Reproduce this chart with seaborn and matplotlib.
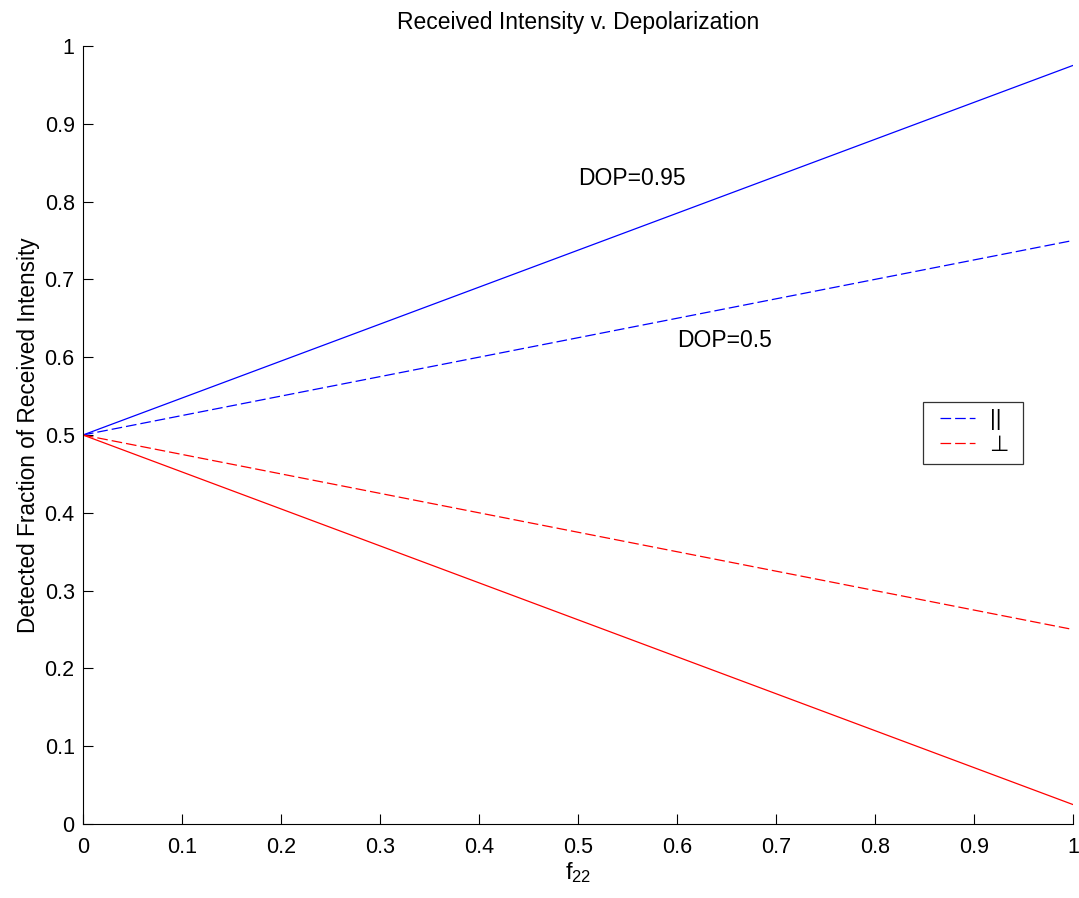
import numpy as np
import pandas as pd
import matplotlib
matplotlib.use("Agg")
import matplotlib.pyplot as plt
from matplotlib.legend_handler import HandlerLine2D
import seaborn as sns

# Received intensity fraction versus depolarization f22
f22 = [0.0, 1.0]
par_dop095 = [0.5, 0.975]
par_dop050 = [0.5, 0.75]
perp_dop050 = [0.5, 0.25]
perp_dop095 = [0.5, 0.025]

x_ticks = [0, 0.1, 0.2, 0.3, 0.4, 0.5, 0.6, 0.7, 0.8, 0.9, 1]
y_ticks = [0, 0.1, 0.2, 0.3, 0.4, 0.5, 0.6, 0.7, 0.8, 0.9, 1]
tick_labels = ["0", "0.1", "0.2", "0.3", "0.4", "0.5", "0.6", "0.7", "0.8", "0.9", "1"]

sns.set_theme(style="white")
plt.rcParams["font.family"] = ["Liberation Sans", "DejaVu Sans"]
plt.rcParams["text.color"] = "black"
plt.rcParams["axes.labelcolor"] = "black"
plt.rcParams["mathtext.fontset"] = "custom"
plt.rcParams["mathtext.rm"] = "Liberation Sans"
plt.rcParams["mathtext.it"] = "Liberation Sans"
plt.rcParams["mathtext.bf"] = "Liberation Sans:bold"


class InsetLineHandler(HandlerLine2D):
    """Legend line sample drawn in the right part of its handle box."""

    def __init__(self, inset_pt, **kw):
        super().__init__(**kw)
        self.inset_pt = inset_pt

    def create_artists(self, legend, orig_handle, xdescent, ydescent,
                       width, height, fontsize, trans):
        return super().create_artists(legend, orig_handle,
                                      xdescent - self.inset_pt, ydescent,
                                      width - self.inset_pt, height,
                                      fontsize, trans)


fig = plt.figure(figsize=(10.79, 8.98), dpi=100)
ax = fig.add_axes([0.0769, 0.0824, 0.9175, 0.8664])

lw = 0.9
dash = (0, (8.5, 3.2))
sns.lineplot(x=f22, y=par_dop095, ax=ax, color="#0000ff", linewidth=lw)
sns.lineplot(x=f22, y=par_dop050, ax=ax, color="#0000ff", linewidth=lw,
             linestyle=dash, label="||")
sns.lineplot(x=f22, y=perp_dop050, ax=ax, color="#ff0000", linewidth=lw,
             linestyle=dash, label="\u22a5")
sns.lineplot(x=f22, y=perp_dop095, ax=ax, color="#ff0000", linewidth=lw)

ax.set_xlim(0, 1)
ax.set_ylim(0, 1)
ax.set_xticks(x_ticks)
ax.set_xticklabels(tick_labels)
ax.set_yticks(y_ticks)
ax.set_yticklabels(tick_labels)
ax.tick_params(direction="in", length=7, width=0.8, colors="black",
               labelsize=15.5, left=True, bottom=True)
ax.tick_params(axis="x", pad=9)
ax.tick_params(axis="y", pad=6)

for side in ["top", "right"]:
    ax.spines[side].set_visible(False)
for side in ["left", "bottom"]:
    ax.spines[side].set_color("black")
    ax.spines[side].set_linewidth(0.8)

ax.set_title("Received Intensity v. Depolarization", fontsize=16.5, pad=12,
             color="black")
ax.set_xlabel(r"$\mathregular{f_{22}}$", fontsize=17, labelpad=2)
ax.set_ylabel("Detected Fraction of Received Intensity", fontsize=16.3,
              labelpad=3)

ax.text(0.5, 0.83, "DOP=0.95", fontsize=16.5, ha="left", va="center")
ax.text(0.6, 0.622, "DOP=0.5", fontsize=16.5, ha="left", va="center")

handles, labels = ax.get_legend_handles_labels()
leg = ax.legend(handles, [lab + " " for lab in labels],
                loc="center", bbox_to_anchor=(0.899, 0.503), fontsize=16,
                frameon=True, fancybox=False, edgecolor="black",
                handlelength=2.0, handletextpad=0.68, borderpad=0.35,
                borderaxespad=0.0, labelspacing=0.2,
                handler_map={h: InsetLineHandler(6.6) for h in handles})
leg.get_frame().set_linewidth(0.9)

fig.savefig("out.png", dpi=100, facecolor="white")
